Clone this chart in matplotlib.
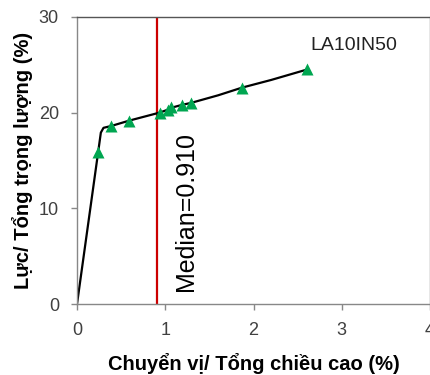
import matplotlib.pyplot as plt

plt.rcParams['font.family'] = ['Liberation Sans', 'DejaVu Sans']

# curve (drift % vs. base shear %)
curve_x = [0, 0.24, 0.27, 0.30, 0.39, 0.59, 0.94, 1.03, 1.07, 1.19, 1.29, 1.6, 1.87, 2.2, 2.61]
curve_y = [0, 15.9, 17.9, 18.4, 18.6, 19.15, 20.0, 20.3, 20.5, 20.8, 21.0, 21.8, 22.6, 23.4, 24.5]

# record points
pts_x = [0.24, 0.39, 0.59, 0.94, 1.03, 1.07, 1.19, 1.29, 1.87, 2.61]
pts_y = [15.9, 18.6, 19.15, 20.0, 20.3, 20.55, 20.8, 21.0, 22.6, 24.5]

median = 0.910
label = "LA10IN50"

fig = plt.figure(figsize=(4.31, 3.75), dpi=100)
ax = fig.add_axes([0.1787, 0.1893, 0.819, 0.766])

ax.plot(curve_x, curve_y, "-", color="black", lw=1.6, zorder=2)
ax.plot(pts_x, pts_y, "^", color="#00a651", ms=8, mec="none", zorder=3)
ax.axvline(median, color="#cc0000", lw=1.6, zorder=1)
ax.text(1.24, 1.4, "Median=%.3f" % median, rotation=90, ha="center", va="bottom",
        fontsize=18, color="black")
ax.text(2.65, 27.0, label, ha="left", va="center", fontsize=14, color="#222222")

ax.set_xlim(0, 4)
ax.set_ylim(0, 30)
ax.set_xticks([0, 1, 2, 3, 4])
ax.set_yticks([0, 10, 20, 30])
ax.tick_params(direction="out", length=4, width=1, color="#888888",
               labelsize=13, labelcolor="#404040", pad=9)
for s in ax.spines.values():
    s.set_color("#888888")
    s.set_linewidth(1)
ax.spines["top"].set_color("#555555")

ax.set_xlabel("Chuyển vị/ Tổng chiều cao (%)", fontsize=14.5, fontweight="bold", labelpad=10)
ax.set_ylabel("Lực/ Tổng trọng lượng (%)", fontsize=14.5, fontweight="bold", labelpad=4)

fig.savefig("out.png", dpi=100)
